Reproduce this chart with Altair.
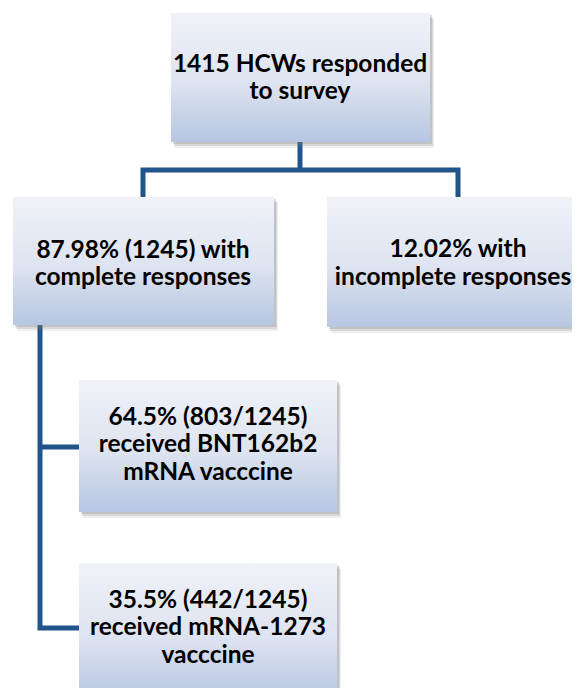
import altair as alt
import pandas as pd

# ---- content ----
box_labels = [
    ["1415 HCWs responded", "to survey"],
    ["87.98% (1245) with", "complete responses"],
    ["12.02% with", "incomplete responses"],
    ["64.5% (803/1245)", "received BNT162b2", "mRNA vacccine"],
    ["35.5% (442/1245)", "received mRNA-1273", "vacccine"],
]

# ---- layout (page pixel coordinates) ----
box_x0 = [171, 13, 327, 79, 79]
box_x1 = [430, 274, 600, 337, 337]
box_y0 = [13, 197, 197, 380, 563]
box_y1 = [142, 325, 327, 512, 700]
text_cx = [[300, 300], [143, 143], [458, 453], [208, 208, 208], [208, 208, 208]]
text_baselines = [[72, 99], [258, 285], [257, 285], [425, 452, 480], [608, 635, 663]]

connector_paths = [
    [(300, 142), (300, 170)],
    [(143, 197), (143, 170), (458, 170), (458, 197)],
    [(40, 325), (40, 628), (79, 628)],
    [(40, 447), (79, 447)],
]

X0, X1, Y0, Y1 = 8, 572, 8, 688
xs = alt.Scale(domain=[X0, X1], nice=False, zero=False)
ys = alt.Scale(domain=[Y0, Y1], nice=False, zero=False, reverse=True)

boxes = pd.DataFrame({"x0": box_x0, "x1": box_x1, "y0": box_y0, "y1": box_y1})

rows = []
for i, lines in enumerate(box_labels):
    for j, t in enumerate(lines):
        rows.append({"x": text_cx[i][j], "y": text_baselines[i][j], "t": t})
texts = pd.DataFrame(rows)

crow = []
for p, path in enumerate(connector_paths):
    for k, (x, y) in enumerate(path):
        crow.append({"p": p, "k": k, "x": x, "y": y})
conns = pd.DataFrame(crow)

def shadow(dx, dy, op):
    d = boxes.copy()
    d["x0"] += dx; d["x1"] += dx; d["y0"] += dy; d["y1"] += dy
    return alt.Chart(d).mark_rect(color="#7f7f7f", opacity=op, clip=True).encode(
        x=alt.X("x0:Q", scale=xs, axis=None), x2="x1:Q",
        y=alt.Y("y0:Q", scale=ys, axis=None), y2="y1:Q")

grad = alt.Gradient(
    gradient="linear",
    stops=[alt.GradientStop(color="#f0f2f8", offset=0),
           alt.GradientStop(color="#dde3f0", offset=0.55),
           alt.GradientStop(color="#b7c6e2", offset=1)],
    x1=0, x2=0, y1=0, y2=1)

rects = alt.Chart(boxes).mark_rect(fill=grad, clip=True).encode(
    x=alt.X("x0:Q", scale=xs, axis=None), x2="x1:Q",
    y=alt.Y("y0:Q", scale=ys, axis=None), y2="y1:Q")

lines = alt.Chart(conns).mark_line(color="#20548a", strokeWidth=5, strokeJoin="miter",
                                    strokeCap="butt", clip=True).encode(
    x=alt.X("x:Q", scale=xs, axis=None),
    y=alt.Y("y:Q", scale=ys, axis=None),
    detail="p:N", order="k:Q")

text = alt.Chart(texts).mark_text(font="Lato", fontWeight="bold", fontSize=24.5,
                                  color="#000000", align="center",
                                  baseline="alphabetic", clip=True).encode(
    x=alt.X("x:Q", scale=xs, axis=None),
    y=alt.Y("y:Q", scale=ys, axis=None),
    text="t:N")

chart = alt.layer(
    lines, shadow(4, 6, 0.12), shadow(3, 4, 0.2), shadow(2, 2, 0.25), rects, text
).properties(
    width=X1 - X0, height=Y1 - Y0, padding=0, background="#ffffff",
    autosize=alt.AutoSizeParams(type="none"),
).configure_view(stroke=None)

chart.save("out.html", embed_options={"renderer": "svg", "actions": False})
